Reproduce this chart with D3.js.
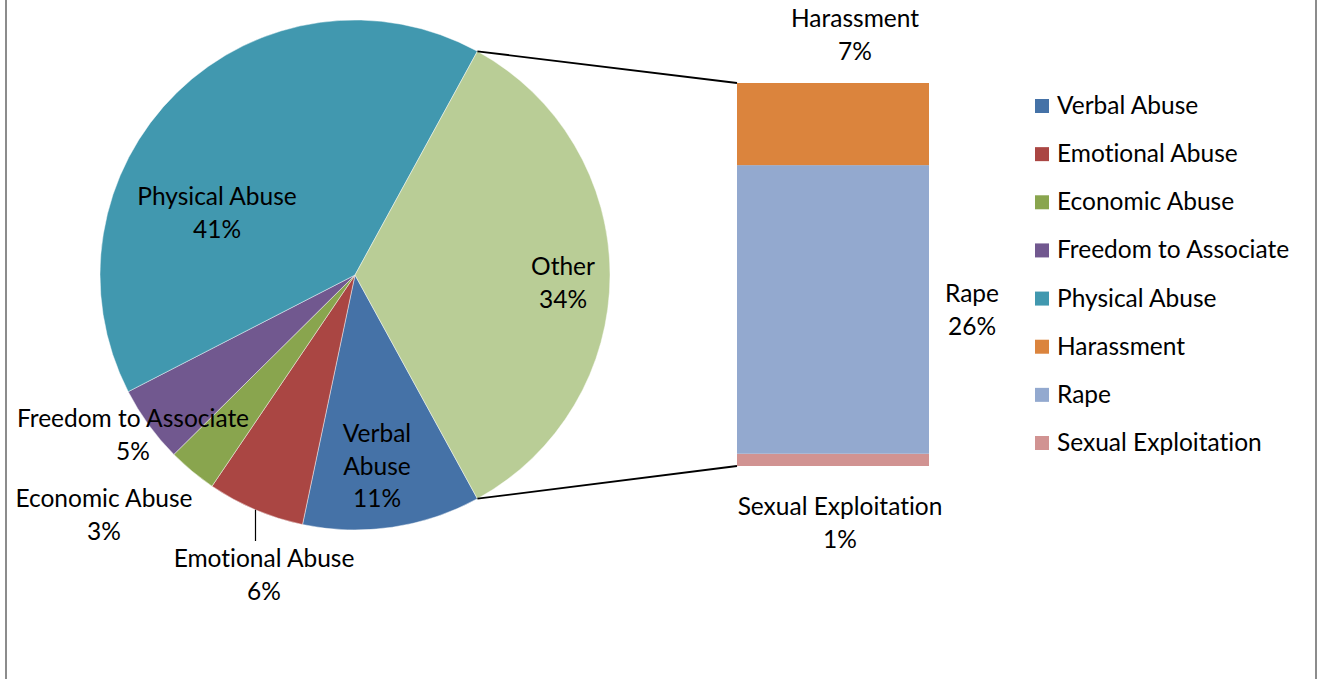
<!DOCTYPE html>
<html>
<head>
<meta charset="utf-8">
<script src="https://cdn.jsdelivr.net/npm/d3@7"></script>
<style>
  html, body { margin: 0; padding: 0; background: #fff; }
  svg { display: block; }
  text { font-family: Lato, "Open Sans", sans-serif; fill: #000; font-variant-ligatures: none; }
</style>
</head>
<body>
<svg id="chart" width="1319" height="679"></svg>
<script>
// ---- data (percent of all cases) ----
const pieCategories = ["Verbal Abuse", "Emotional Abuse", "Economic Abuse", "Freedom to Associate", "Physical Abuse"];
const pieValues     = [11.26, 6.17, 3.1, 4.86, 40.5];
const otherCategories = ["Harassment", "Rape", "Sexual Exploitation"];
const otherValues     = [7.3, 25.65, 1.09];
const otherLabel = "Other";
const legendOrder = ["Verbal Abuse", "Emotional Abuse", "Economic Abuse", "Freedom to Associate",
                     "Physical Abuse", "Harassment", "Rape", "Sexual Exploitation"];

// ---- styles ----
const colors = {
  "Verbal Abuse": "#4572A7",
  "Emotional Abuse": "#AA4643",
  "Economic Abuse": "#89A54E",
  "Freedom to Associate": "#71588F",
  "Physical Abuse": "#4198AF",
  "Harassment": "#DB843D",
  "Rape": "#93A9CF",
  "Sexual Exploitation": "#D19392",
  "Other": "#B9CD96"
};
const FS = 24.5;
const LH = 32.5;

const svg = d3.select("#chart");

// chart border (left and right edges visible)
svg.append("line").attr("x1", 6).attr("x2", 6).attr("y1", 0).attr("y2", 679)
  .attr("stroke", "#8c8c8c").attr("stroke-width", 2);
svg.append("line").attr("x1", 1316).attr("x2", 1316).attr("y1", 0).attr("y2", 679)
  .attr("stroke", "#8c8c8c").attr("stroke-width", 2);

const total = d3.sum(pieValues) + d3.sum(otherValues);
const otherTotal = d3.sum(otherValues);
const pct = d3.format(".0%");

// ---- pie ----
const cx = 355, cy = 275, R = 255;
const pieData = pieCategories.map((c, i) => ({ name: c, value: pieValues[i] }))
  .concat([{ name: otherLabel, value: otherTotal }]);
// "Other" centred on the right (3 o'clock)
const start = Math.PI / 2 + (otherTotal / total) * Math.PI;
const pie = d3.pie().sort(null).value(d => d.value).startAngle(start).endAngle(start + 2 * Math.PI);
const arcs = pie(pieData);
const arc = d3.arc().innerRadius(0).outerRadius(R);

const g = svg.append("g").attr("transform", `translate(${cx},${cy})`);
g.selectAll("path").data(arcs).join("path")
  .attr("d", arc)
  .attr("fill", d => colors[d.data.name])
  .attr("stroke", "#ffffff").attr("stroke-opacity", 0.55).attr("stroke-width", 0.8);

// ---- bar of "Other" ----
const barX = 737, barW = 192, barTop = 83, barBottom = 466;
const y = d3.scaleLinear().domain([0, otherTotal]).range([barBottom, barTop]);
// stack bottom-up: last category at the bottom
const stackOrder = otherCategories.map((c, i) => ({ name: c, value: otherValues[i] })).reverse();
let acc = 0;
const barSegs = stackOrder.map(d => { const s = { name: d.name, value: d.value, y0: acc, y1: acc + d.value }; acc += d.value; return s; });
svg.selectAll("rect.seg").data(barSegs).join("rect")
  .attr("class", "seg")
  .attr("x", barX).attr("width", barW)
  .attr("y", d => y(d.y1)).attr("height", d => y(d.y0) - y(d.y1))
  .attr("fill", d => colors[d.name]);

// connector lines from the "Other" slice to the bar
const otherArc = arcs[arcs.length - 1];
function edgePoint(a) { return [cx + R * Math.sin(a), cy - R * Math.cos(a)]; }
const pTop = edgePoint(otherArc.startAngle);
const pBot = edgePoint(otherArc.endAngle);
svg.append("line").attr("x1", pTop[0]).attr("y1", pTop[1]).attr("x2", barX).attr("y2", y(otherTotal))
  .attr("stroke", "#000").attr("stroke-width", 1.8);
svg.append("line").attr("x1", pBot[0]).attr("y1", pBot[1]).attr("x2", barX).attr("y2", y(0))
  .attr("stroke", "#000").attr("stroke-width", 1.8);

// ---- data labels ----
const valueOf = name => {
  let i = pieCategories.indexOf(name);
  if (i >= 0) return pieValues[i];
  i = otherCategories.indexOf(name);
  if (i >= 0) return otherValues[i];
  return otherTotal;
};
const labelLayout = [
  { name: "Physical Abuse", lines: ["Physical Abuse"], x: 217, y: 205 },
  { name: "Other", lines: ["Other"], x: 563, y: 275 },
  { name: "Verbal Abuse", lines: ["Verbal", "Abuse"], x: 377, y: 442 },
  { name: "Freedom to Associate", lines: ["Freedom to Associate"], x: 133, y: 427 },
  { name: "Economic Abuse", lines: ["Economic Abuse"], x: 104, y: 507 },
  { name: "Emotional Abuse", lines: ["Emotional Abuse"], x: 264, y: 567 },
  { name: "Harassment", lines: ["Harassment"], x: 855, y: 27 },
  { name: "Rape", lines: ["Rape"], x: 972, y: 302 },
  { name: "Sexual Exploitation", lines: ["Sexual Exploitation"], x: 840, y: 515 }
];
labelLayout.forEach(L => {
  const t = svg.append("text").attr("text-anchor", "middle").attr("font-size", FS);
  const all = L.lines.concat([pct(valueOf(L.name) / total)]);
  all.forEach((s, i) => t.append("tspan").attr("x", L.x).attr("y", L.y + i * LH).text(s));
});

// leader line for Emotional Abuse
const lx = 255.5;
const ly0 = cy + Math.sqrt(R * R - (lx - cx) * (lx - cx));
svg.append("line").attr("x1", lx).attr("x2", lx).attr("y1", ly0).attr("y2", 541)
  .attr("stroke", "#000").attr("stroke-width", 1.2);

// ---- legend ----
const legY = d3.scalePoint().domain(legendOrder).range([106, 443]);
const leg = svg.append("g");
legendOrder.forEach(name => {
  leg.append("rect").attr("x", 1035).attr("y", legY(name) - 7).attr("width", 14).attr("height", 14)
    .attr("fill", colors[name]);
  leg.append("text").attr("x", 1057).attr("y", legY(name) + 8).attr("font-size", FS).text(name);
});
</script>
</body>
</html>
